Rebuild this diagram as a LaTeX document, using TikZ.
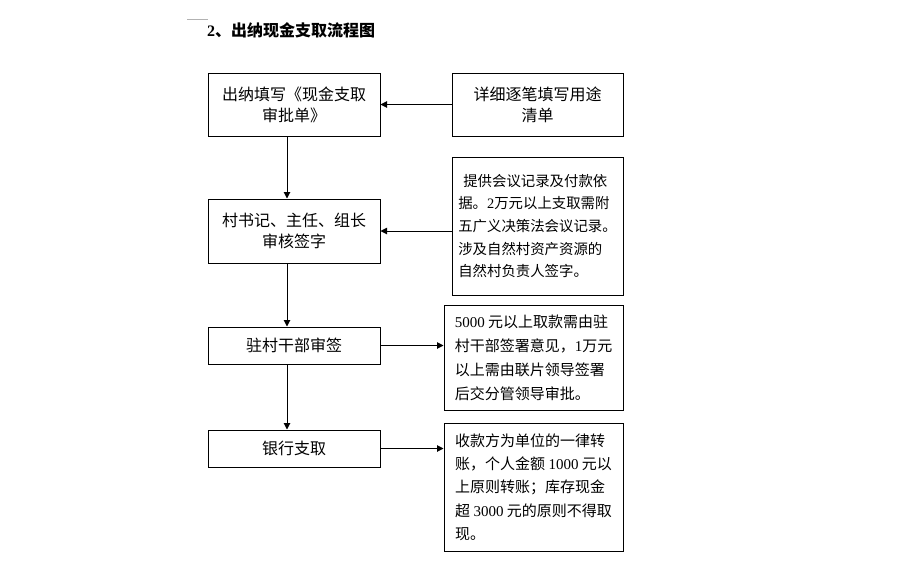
\documentclass[tikz,border=0pt]{standalone}
\usepackage{fontspec}
\setmainfont{Noto Sans CJK SC}
\newfontfamily\tnr{Liberation Serif}
\usetikzlibrary{arrows.meta}
\begin{document}
\begin{tikzpicture}[x=1pt,y=-1pt,
  box/.style={draw,line width=1pt,inner sep=0pt,align=center,font=\fontsize{16}{21}\selectfont},
  note/.style={draw,line width=1pt,inner sep=0pt,align=left,font=\fontsize{15}{24}\selectfont},
  arr/.style={line width=1pt,-{Triangle[width=6.5pt,length=6.5pt]}}]
\useasboundingbox[fill=white] (0,0) rectangle (897,582);
\draw[gray!60,line width=0.6pt] (187,19) -- (208,19);
\node[font=\bfseries\fontsize{16}{20}\selectfont,anchor=west,inner sep=0pt] (title) at (207,30) {{\tnr\bfseries 2}、出纳现金支取流程图};

\node[box,minimum width=172,minimum height=63] (b1) at (294,104.5) {出纳填写《现金支取\\审批单》};
\node[box,minimum width=171,minimum height=63] (r1) at (537.5,104.5) {详细逐笔填写用途\\清单};

\node[box,minimum width=172,minimum height=64] (b2) at (294,231) {村书记、主任、组长\\审核签字};
\node[note,font=\fontsize{14.4}{22.6}\selectfont,minimum width=171,minimum height=138] (r2) at (537.5,226)
  {\hspace{5pt}提供会议记录及付款依\\据。{\tnr 2}万元以上支取需附\\五广义决策法会议记录。\\涉及自然村资产资源的\\自然村负责人签字。};

\node[box,minimum width=172,minimum height=37] (b3) at (294,345.5) {驻村干部审签};
\node[note,minimum width=179,minimum height=105] (r3) at (533.5,357.5)
  {{\tnr 5000} 元以上取款需由驻\\村干部签署意见，{\tnr 1}万元\\以上需由联片领导签署\\后交分管领导审批。};

\node[box,minimum width=172,minimum height=37] (b4) at (294,448.5) {银行支取};
\node[note,font=\fontsize{15}{23.3}\selectfont,minimum width=179,minimum height=128] (r4) at (533.5,487)
  {收款方为单位的一律转\\账，个人金额 {\tnr 1000} 元以\\上原则转账；库存现金\\超 {\tnr 3000} 元的原则不得取\\现。};

\coordinate (vx) at (287,0);
\draw[arr] (b1.south -| vx) -- (b2.north -| vx);
\draw[arr] (b2.south -| vx) -- (b3.north -| vx);
\draw[arr] (b3.south -| vx) -- (b4.north -| vx);

\draw[arr] (r1.west) -- (b1.east);
\draw[arr] (r2.west |- b2.east) -- (b2.east);
\draw[arr] (b3.east) -- (b3.east -| r3.west);
\draw[arr] (b4.east) -- (b4.east -| r4.west);
\end{tikzpicture}
\end{document}
